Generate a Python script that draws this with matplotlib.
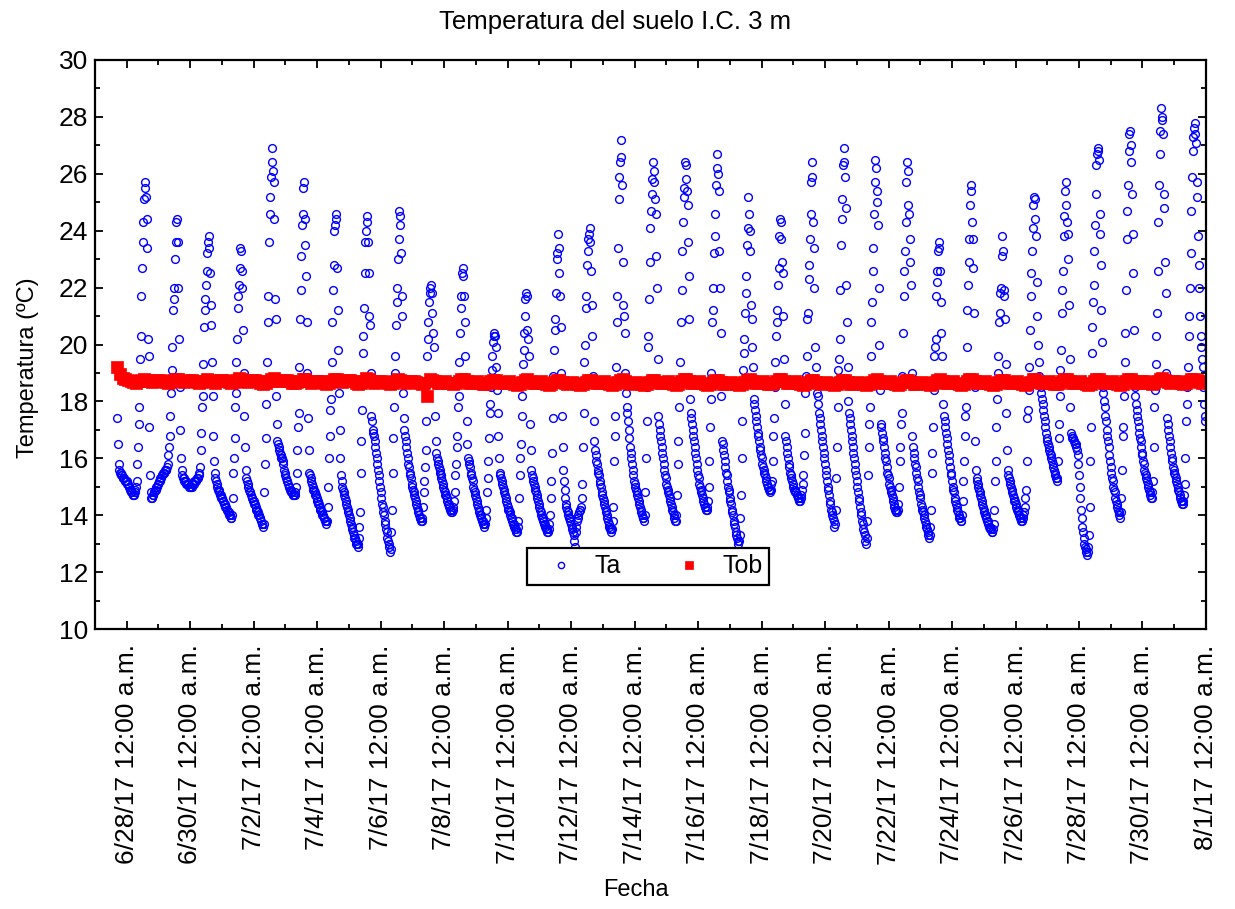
import numpy as np
import pandas as pd
import matplotlib
matplotlib.use("Agg")
import matplotlib.pyplot as plt
import matplotlib.dates as mdates
from matplotlib.ticker import FuncFormatter, MultipleLocator

plt.rcParams["font.family"] = ["Liberation Sans", "DejaVu Sans"]

# Ta, soil temperature every 30 min (first day starts 6/27 17:00)
ta_jun27 = [17.4, 16.5, 15.8, 15.6, 15.5, 15.5, 15.4, 15.4, 15.3, 15.3, 15.3, 15.2, 15.2, 15.2]
ta_jun28 = [15.2, 15.1, 15.1, 15.0, 15.0, 14.9, 14.9, 14.8, 14.8, 14.7, 14.7, 14.7, 14.8, 14.9, 15.0, 15.2,
            15.8, 16.4, 17.2, 17.8, 19.5, 20.3, 21.7, 22.7, 23.6, 24.3, 25.1, 25.5, 25.7,
            25.2, 24.4, 23.4, 20.2, 19.6, 17.1, 15.4, 14.8,
            14.6, 14.6, 14.7, 14.7, 14.8, 14.8, 14.9, 14.9, 15.0, 15.0, 15.1]
ta_jun29 = [15.1, 15.2, 15.2, 15.3, 15.3, 15.4, 15.4, 15.5, 15.5, 15.5, 15.6, 15.6, 15.6, 15.7, 15.8, 16.1,
            16.4, 16.8, 17.5, 18.3, 19.1, 19.9, 21.2, 21.6, 22.0, 23.0, 23.6, 24.3, 24.4,
            23.6, 22.0, 20.2, 18.5, 17.0, 16.0, 15.6, 15.4,
            15.3, 15.3, 15.2, 15.2, 15.2, 15.1, 15.1, 15.1, 15.1, 15.0, 15.0]
ta_jun30 = [15.0, 15.0, 15.0, 15.1, 15.1, 15.1, 15.2, 15.2, 15.2, 15.2, 15.3, 15.3, 15.3, 15.4, 15.5, 15.7,
            16.3, 16.9, 17.8, 18.2, 19.3, 20.6, 21.2, 21.6, 22.1, 22.6, 23.2, 23.6, 23.8,
            23.4, 22.5, 21.4, 20.7, 19.4, 18.2, 16.8, 15.9,
            15.5, 15.3, 15.2, 15.1, 15.0, 14.9, 14.9, 14.8, 14.7, 14.7, 14.6]
ta_jul01 = [14.6, 14.5, 14.5, 14.4, 14.4, 14.3, 14.3, 14.2, 14.2, 14.1, 14.1, 14.0, 14.0, 13.9, 13.9, 14.0,
            14.6, 15.5, 16.0, 16.7, 17.8, 18.3, 19.4, 20.2, 21.3, 21.7, 22.1, 22.7, 23.4,
            23.3, 22.6, 22.0, 20.5, 19.0, 17.5, 16.4, 15.6,
            15.3, 15.2, 15.1, 15.0, 14.9, 14.8, 14.8, 14.7, 14.6, 14.6, 14.5]
ta_jul02 = [14.5, 14.4, 14.4, 14.3, 14.2, 14.2, 14.1, 14.0, 14.0, 13.9, 13.9, 13.8, 13.7, 13.7, 13.6, 13.7,
            14.8, 15.8, 16.7, 17.9, 19.4, 20.8, 21.7, 23.6, 24.6, 25.2, 25.9, 26.4, 26.9,
            26.1, 25.7, 24.4, 21.6, 20.9, 18.2, 17.2, 16.6,
            16.5, 16.4, 16.3, 16.2, 16.1, 16.0, 16.0, 15.9, 15.8, 15.6, 15.5]
ta_jul03 = [15.4, 15.3, 15.2, 15.2, 15.1, 15.0, 15.0, 14.9, 14.9, 14.8, 14.8, 14.7, 14.7, 14.7, 14.7, 14.8,
            15.0, 15.5, 16.3, 17.1, 17.6, 19.2, 20.9, 21.9, 23.1, 24.2, 24.6, 25.5, 25.7,
            24.4, 23.5, 22.4, 20.8, 19.0, 17.4, 16.3, 15.5,
            15.4, 15.3, 15.2, 15.1, 15.0, 14.9, 14.9, 14.8, 14.7, 14.7, 14.6]
ta_jul04 = [14.5, 14.5, 14.4, 14.4, 14.3, 14.2, 14.2, 14.1, 14.0, 14.0, 13.9, 13.9, 13.8, 13.8, 13.7, 13.8,
            14.3, 15.0, 16.0, 16.8, 17.7, 18.1, 19.4, 20.8, 21.9, 22.8, 24.0, 24.2, 24.6,
            24.4, 22.7, 21.2, 19.8, 18.3, 17.0, 16.0, 15.4,
            15.2, 15.0, 14.9, 14.8, 14.7, 14.6, 14.5, 14.4, 14.3, 14.2, 14.1]
ta_jul05 = [14.0, 13.9, 13.8, 13.7, 13.6, 13.5, 13.4, 13.3, 13.2, 13.2, 13.1, 13.0, 13.0, 12.9, 13.0, 13.2,
            13.6, 14.1, 15.5, 16.6, 17.7, 19.7, 20.3, 21.3, 22.5, 23.6, 24.0, 24.3, 24.5,
            23.6, 22.5, 21.0, 20.7, 19.0, 17.5, 17.3, 17.0,
            16.9, 16.8, 16.6, 16.4, 16.2, 16.0, 15.8, 15.6, 15.4, 15.2, 15.0]
ta_jul06 = [14.8, 14.6, 14.4, 14.3, 14.1, 14.0, 13.8, 13.7, 13.5, 13.4, 13.2, 13.1, 13.0, 12.9, 12.7, 12.8,
            13.4, 14.2, 15.5, 16.7, 17.8, 19.0, 19.6, 20.7, 21.5, 22.0, 23.0, 23.7, 24.7,
            24.5, 24.2, 23.2, 21.7, 21.0, 18.3, 17.4, 17.0,
            16.8, 16.6, 16.4, 16.2, 16.0, 15.8, 15.7, 15.5, 15.4, 15.3, 15.1]
ta_jul07 = [15.0, 14.9, 14.8, 14.7, 14.6, 14.5, 14.4, 14.3, 14.2, 14.1, 14.0, 13.9, 13.9, 13.8, 13.8, 13.9,
            14.3, 14.8, 15.2, 15.7, 16.3, 17.3, 19.6, 20.2, 20.8, 21.5, 21.8, 22.0, 22.1,
            21.8, 21.1, 20.4, 19.9, 18.8, 17.5, 16.6, 16.2,
            16.0, 15.9, 15.8, 15.7, 15.6, 15.5, 15.4, 15.3, 15.2, 15.1, 15.0]
ta_jul08 = [14.9, 14.8, 14.7, 14.7, 14.6, 14.5, 14.4, 14.4, 14.3, 14.2, 14.2, 14.1, 14.1, 14.2, 14.3, 14.5,
            14.8, 15.4, 15.8, 16.4, 16.8, 17.8, 18.2, 19.4, 20.4, 21.3, 21.7, 22.5, 22.7,
            22.4, 21.7, 20.8, 19.6, 18.6, 17.3, 16.5, 16.0,
            15.9, 15.8, 15.7, 15.5, 15.4, 15.3, 15.2, 15.0, 14.9, 14.8, 14.7]
ta_jul09 = [14.6, 14.5, 14.4, 14.3, 14.2, 14.1, 14.0, 14.0, 13.9, 13.8, 13.8, 13.7, 13.7, 13.6, 13.7, 13.9,
            14.2, 14.8, 15.3, 15.9, 16.7, 17.6, 17.9, 18.5, 19.1, 19.6, 20.1, 20.3, 20.4,
            20.3, 19.9, 19.2, 18.4, 17.6, 16.8, 16.0, 15.5,
            15.4, 15.3, 15.2, 15.1, 15.0, 14.9, 14.8, 14.7, 14.6, 14.5, 14.4]
ta_jul10 = [14.3, 14.2, 14.2, 14.1, 14.0, 13.9, 13.9, 13.8, 13.7, 13.7, 13.6, 13.5, 13.5, 13.4, 13.4, 13.6,
            13.8, 14.6, 15.4, 16.0, 16.5, 17.5, 18.2, 19.3, 19.8, 20.4, 21.0, 21.6, 21.8,
            21.7, 20.5, 20.2, 19.6, 18.6, 17.2, 16.3, 15.6,
            15.4, 15.3, 15.2, 15.1, 15.0, 14.9, 14.8, 14.7, 14.6, 14.5, 14.4]
ta_jul11 = [14.3, 14.2, 14.1, 14.0, 13.9, 13.9, 13.8, 13.7, 13.7, 13.6, 13.5, 13.5, 13.4, 13.4, 13.5, 13.7,
            14.0, 14.6, 15.2, 16.2, 17.4, 18.9, 19.8, 20.5, 20.9, 21.8, 23.0, 23.2, 23.9,
            23.4, 22.5, 21.7, 20.6, 19.0, 17.5, 16.4, 15.6,
            15.2, 14.9, 14.6, 14.4, 14.3, 14.2, 14.1, 14.0, 13.9, 13.9, 13.8]
ta_jul12 = [13.7, 13.6, 13.5, 13.4, 13.3, 13.1, 12.9, 13.4, 13.6, 13.8, 13.9, 14.0, 14.1, 14.2, 14.2, 14.3,
            14.6, 15.1, 16.4, 17.6, 19.4, 20.0, 21.3, 21.7, 22.8, 23.3, 23.7, 23.9, 24.1,
            23.6, 22.6, 21.4, 20.3, 18.9, 17.3, 16.6, 16.3,
            16.1, 15.9, 15.8, 15.6, 15.5, 15.4, 15.2, 15.1, 15.0, 14.8, 14.7]
ta_jul13 = [14.6, 14.5, 14.4, 14.3, 14.2, 14.1, 14.0, 13.9, 13.8, 13.7, 13.6, 13.5, 13.5, 13.4, 13.5, 13.8,
            14.3, 15.9, 16.8, 17.5, 19.2, 20.8, 21.7, 23.4, 25.1, 25.9, 26.4, 26.6, 27.2,
            25.6, 22.9, 21.4, 21.0, 20.4, 19.0, 18.3, 17.8,
            17.6, 17.3, 17.0, 16.7, 16.4, 16.2, 16.0, 15.8, 15.6, 15.4, 15.2]
ta_jul14 = [15.1, 15.0, 14.9, 14.8, 14.7, 14.6, 14.5, 14.4, 14.3, 14.2, 14.1, 14.0, 13.9, 13.9, 13.8, 14.0,
            14.8, 16.0, 17.3, 18.5, 19.9, 20.3, 21.6, 22.9, 24.1, 24.7, 25.3, 25.8, 26.4,
            26.1, 25.7, 25.1, 24.6, 23.1, 22.0, 19.5, 17.5,
            17.2, 17.0, 16.8, 16.6, 16.4, 16.2, 16.0, 15.8, 15.6, 15.4, 15.3]
ta_jul15 = [15.1, 15.0, 14.9, 14.8, 14.7, 14.6, 14.5, 14.4, 14.3, 14.2, 14.1, 14.0, 13.9, 13.8, 13.8, 14.0,
            14.7, 15.8, 16.6, 17.8, 18.8, 19.4, 20.8, 21.9, 23.3, 24.3, 25.2, 25.5, 26.4,
            26.3, 25.8, 25.4, 24.9, 23.6, 22.4, 20.9, 18.1,
            17.6, 17.4, 17.2, 17.0, 16.8, 16.6, 16.4, 16.2, 16.0, 15.8, 15.6]
ta_jul16 = [15.4, 15.3, 15.1, 15.0, 14.9, 14.8, 14.7, 14.6, 14.5, 14.4, 14.3, 14.3, 14.2, 14.2, 14.3, 14.5,
            15.0, 15.9, 17.1, 18.1, 19.0, 20.8, 21.2, 22.0, 23.2, 23.8, 24.6, 25.6, 26.7,
            26.2, 26.0, 25.4, 23.3, 22.0, 20.4, 18.2, 16.6,
            16.5, 16.3, 16.1, 15.9, 15.7, 15.5, 15.4, 15.2, 15.0, 14.9, 14.8]
ta_jul17 = [14.6, 14.5, 14.4, 14.2, 14.1, 14.0, 13.8, 13.7, 13.6, 13.4, 13.3, 13.2, 13.1, 13.0, 13.1, 13.3,
            13.9, 14.7, 16.0, 17.3, 19.1, 19.7, 20.2, 21.1, 21.8, 22.4, 23.5, 24.1, 25.2,
            24.6, 24.0, 23.3, 21.4, 20.9, 19.9, 19.2, 18.1,
            17.9, 17.7, 17.5, 17.3, 17.1, 16.9, 16.8, 16.6, 16.4, 16.3, 16.1]
ta_jul18 = [16.0, 15.8, 15.7, 15.6, 15.5, 15.4, 15.3, 15.2, 15.1, 15.0, 15.0, 14.9, 14.9, 14.8, 14.9, 15.1,
            15.2, 15.9, 16.8, 17.4, 18.5, 19.4, 20.3, 20.8, 21.2, 22.1, 22.7, 23.8, 24.4,
            24.3, 23.7, 22.9, 22.5, 21.0, 19.5, 17.9, 16.8,
            16.6, 16.4, 16.2, 16.0, 15.8, 15.7, 15.5, 15.4, 15.3, 15.2, 15.1]
ta_jul19 = [15.0, 14.9, 14.9, 14.8, 14.8, 14.7, 14.7, 14.6, 14.6, 14.5, 14.5, 14.6, 14.7, 14.9, 15.1, 15.4,
            16.1, 16.9, 18.3, 18.9, 19.6, 20.9, 21.1, 22.3, 22.8, 23.7, 24.6, 25.7, 26.4,
            25.9, 24.3, 23.4, 22.0, 19.9, 19.2, 18.6, 18.3,
            18.2, 17.9, 17.6, 17.4, 17.2, 17.0, 16.8, 16.6, 16.4, 16.2, 16.0]
ta_jul20 = [15.8, 15.6, 15.4, 15.2, 15.0, 14.9, 14.7, 14.5, 14.4, 14.2, 14.1, 14.0, 13.9, 13.8, 13.6, 13.7,
            14.2, 15.3, 16.4, 17.8, 19.1, 19.5, 20.2, 21.9, 23.5, 24.4, 25.1, 26.3, 26.9,
            26.4, 25.9, 24.8, 22.1, 20.8, 19.2, 18.0, 17.6,
            17.4, 17.2, 17.0, 16.8, 16.6, 16.4, 16.2, 16.0, 15.8, 15.6, 15.4]
ta_jul21 = [15.2, 15.0, 14.8, 14.6, 14.5, 14.3, 14.1, 14.0, 13.8, 13.7, 13.5, 13.4, 13.3, 13.1, 13.0, 13.2,
            13.8, 15.4, 16.4, 17.2, 17.8, 19.6, 20.8, 21.5, 22.6, 23.4, 24.6, 25.7, 26.5,
            26.2, 25.4, 25.0, 24.2, 22.0, 20.0, 18.4, 17.2,
            17.1, 16.9, 16.7, 16.6, 16.4, 16.2, 16.0, 15.9, 15.7, 15.5, 15.4]
ta_jul22 = [15.3, 15.1, 15.0, 14.9, 14.8, 14.7, 14.6, 14.5, 14.4, 14.3, 14.2, 14.2, 14.1, 14.1, 14.2, 14.4,
            15.0, 15.9, 16.4, 17.2, 17.6, 18.9, 20.4, 21.7, 22.6, 23.3, 24.3, 25.7, 26.4,
            26.1, 24.9, 24.6, 23.7, 22.9, 22.1, 19.0, 16.8,
            16.4, 16.2, 16.0, 15.8, 15.7, 15.5, 15.3, 15.2, 15.0, 14.8, 14.7]
ta_jul23 = [14.6, 14.4, 14.3, 14.2, 14.1, 14.0, 13.9, 13.8, 13.7, 13.6, 13.5, 13.4, 13.3, 13.2, 13.3, 13.6,
            14.2, 15.5, 16.2, 17.1, 18.4, 19.6, 19.9, 20.2, 21.7, 22.2, 22.6, 23.3, 23.6,
            23.4, 22.6, 21.5, 20.4, 19.6, 18.6, 17.9, 17.5,
            17.3, 17.1, 16.9, 16.7, 16.5, 16.3, 16.1, 15.9, 15.7, 15.5, 15.4]
ta_jul24 = [15.2, 15.0, 14.9, 14.8, 14.6, 14.5, 14.4, 14.3, 14.2, 14.1, 14.0, 13.9, 13.9, 13.8, 13.8, 14.0,
            14.5, 15.2, 15.9, 16.8, 17.5, 17.8, 19.9, 21.2, 22.1, 22.9, 23.7, 24.9, 25.6,
            25.4, 24.3, 23.7, 22.7, 21.1, 18.5, 16.6, 15.6,
            15.3, 15.2, 15.1, 15.0, 14.9, 14.8, 14.7, 14.6, 14.5, 14.4, 14.3]
ta_jul25 = [14.2, 14.1, 14.0, 14.0, 13.9, 13.8, 13.8, 13.7, 13.6, 13.6, 13.5, 13.5, 13.4, 13.4, 13.5, 13.7,
            14.2, 15.2, 15.9, 17.1, 18.1, 19.0, 19.6, 20.8, 21.1, 21.8, 22.0, 23.1, 23.8,
            23.3, 21.9, 21.7, 20.9, 19.3, 17.6, 16.3, 15.6,
            15.4, 15.3, 15.2, 15.1, 15.0, 14.9, 14.8, 14.7, 14.6, 14.5, 14.5]
ta_jul26 = [14.4, 14.3, 14.2, 14.2, 14.1, 14.0, 14.0, 13.9, 13.9, 13.8, 13.8, 13.9, 14.0, 14.1, 14.3, 14.6,
            14.9, 15.9, 17.4, 17.7, 18.4, 19.2, 20.5, 21.7, 22.5, 23.3, 24.1, 24.9, 25.2,
            25.1, 24.4, 23.8, 22.2, 21.0, 20.0, 19.4, 18.9,
            18.7, 18.5, 18.3, 18.1, 17.9, 17.7, 17.5, 17.3, 17.1, 16.9, 16.7]
ta_jul27 = [16.6, 16.5, 16.4, 16.3, 16.2, 16.1, 16.0, 15.9, 15.8, 15.7, 15.6, 15.5, 15.4, 15.3, 15.2, 15.3,
            15.9, 16.7, 17.2, 18.2, 19.1, 19.8, 21.1, 21.9, 22.6, 23.8, 24.5, 25.4, 25.7,
            24.9, 24.3, 23.9, 23.0, 21.4, 19.5, 17.8, 16.9,
            16.8, 16.7, 16.7, 16.6, 16.6, 16.5, 16.5, 16.4, 16.3, 16.1, 15.8]
ta_jul28 = [15.4, 15.0, 14.6, 14.2, 13.9, 13.6, 13.4, 13.2, 13.0, 12.9, 12.8, 12.7, 12.6, 12.7, 12.9, 13.3,
            14.3, 15.9, 17.1, 19.7, 20.6, 21.5, 22.1, 23.3, 24.2, 25.3, 26.3, 26.7, 26.9,
            26.8, 26.5, 24.6, 23.9, 22.8, 21.2, 20.1, 18.5,
            18.3, 18.0, 17.8, 17.5, 17.3, 17.0, 16.8, 16.6, 16.4, 16.1, 15.9]
ta_jul29 = [15.7, 15.5, 15.3, 15.2, 15.0, 14.9, 14.8, 14.6, 14.5, 14.4, 14.3, 14.2, 14.1, 14.0, 13.9, 14.1,
            14.6, 15.6, 16.8, 17.1, 18.2, 19.4, 20.4, 21.9, 23.7, 24.7, 25.6, 26.8, 27.4,
            27.5, 27.0, 26.4, 25.3, 23.9, 22.5, 20.5, 18.5,
            18.2, 17.9, 17.7, 17.5, 17.3, 17.1, 16.9, 16.7, 16.6, 16.4, 16.2]
ta_jul30 = [16.1, 15.9, 15.8, 15.6, 15.5, 15.4, 15.3, 15.2, 15.1, 15.0, 14.9, 14.8, 14.7, 14.6, 14.6, 14.8,
            15.2, 16.4, 17.8, 18.4, 19.3, 20.3, 21.1, 22.6, 24.3, 25.6, 26.7, 27.5, 28.3,
            28.0, 27.9, 27.4, 25.3, 24.8, 22.9, 21.8, 19.0,
            17.4, 17.2, 17.0, 16.8, 16.6, 16.4, 16.2, 16.0, 15.9, 15.7, 15.6]
ta_jul31 = [15.5, 15.4, 15.3, 15.2, 15.1, 15.0, 14.9, 14.8, 14.7, 14.6, 14.5, 14.5, 14.4, 14.4, 14.5, 14.7,
            15.1, 16.0, 17.3, 17.9, 18.5, 19.2, 20.3, 21.0, 22.0, 23.2, 24.7, 25.9, 26.8,
            27.3, 27.6, 27.8, 27.4, 27.1, 25.7, 25.2, 23.8,
            22.8, 22.0, 21.0, 20.3, 19.9, 19.5, 19.2, 18.5, 17.9, 17.5, 17.3]

# Tob, every 2 h (first day starts 6/27 17:00, then 01:00, 03:00 ... 23:00)
tob_jun27 = [19.20, 18.98, 18.84, 18.80]
tob_jun28 = [18.76, 18.72, 18.68, 18.66, 18.70, 18.74, 18.80, 18.76, 18.70, 18.68, 18.72, 18.76]
tob_jun29 = [18.76, 18.72, 18.68, 18.64, 18.68, 18.74, 18.80, 18.80, 18.72, 18.68, 18.72, 18.76]
tob_jun30 = [18.76, 18.72, 18.68, 18.64, 18.68, 18.72, 18.80, 18.76, 18.70, 18.66, 18.70, 18.74]
tob_jul01 = [18.74, 18.70, 18.68, 18.64, 18.68, 18.74, 18.82, 18.78, 18.72, 18.68, 18.70, 18.74]
tob_jul02 = [18.74, 18.70, 18.66, 18.62, 18.66, 18.72, 18.80, 18.82, 18.74, 18.70, 18.70, 18.74]
tob_jul03 = [18.74, 18.70, 18.66, 18.64, 18.68, 18.72, 18.80, 18.80, 18.72, 18.66, 18.68, 18.72]
tob_jul04 = [18.72, 18.70, 18.66, 18.62, 18.66, 18.72, 18.80, 18.80, 18.72, 18.68, 18.70, 18.74]
tob_jul05 = [18.74, 18.70, 18.66, 18.62, 18.66, 18.72, 18.82, 18.78, 18.72, 18.66, 18.68, 18.72]
tob_jul06 = [18.72, 18.68, 18.64, 18.62, 18.66, 18.72, 18.80, 18.76, 18.70, 18.66, 18.68, 18.72]
tob_jul07 = [18.72, 18.68, 18.64, 18.62, 18.66, 18.20, 18.78, 18.74, 18.70, 18.66, 18.64, 18.68]
tob_jul08 = [18.70, 18.66, 18.64, 18.60, 18.64, 18.70, 18.78, 18.78, 18.70, 18.66, 18.64, 18.68]
tob_jul09 = [18.70, 18.66, 18.62, 18.60, 18.64, 18.70, 18.76, 18.76, 18.68, 18.64, 18.64, 18.68]
tob_jul10 = [18.70, 18.66, 18.62, 18.58, 18.62, 18.68, 18.76, 18.78, 18.70, 18.64, 18.64, 18.68]
tob_jul11 = [18.70, 18.66, 18.62, 18.58, 18.62, 18.68, 18.76, 18.76, 18.68, 18.64, 18.62, 18.66]
tob_jul12 = [18.68, 18.64, 18.60, 18.58, 18.62, 18.68, 18.76, 18.76, 18.68, 18.64, 18.64, 18.68]
tob_jul13 = [18.70, 18.66, 18.62, 18.58, 18.62, 18.68, 18.76, 18.78, 18.70, 18.64, 18.62, 18.66]
tob_jul14 = [18.68, 18.64, 18.60, 18.58, 18.62, 18.68, 18.76, 18.76, 18.68, 18.64, 18.64, 18.68]
tob_jul15 = [18.70, 18.66, 18.62, 18.58, 18.62, 18.70, 18.78, 18.78, 18.70, 18.64, 18.64, 18.68]
tob_jul16 = [18.70, 18.66, 18.62, 18.58, 18.62, 18.68, 18.76, 18.76, 18.68, 18.62, 18.62, 18.66]
tob_jul17 = [18.68, 18.64, 18.60, 18.58, 18.62, 18.68, 18.76, 18.78, 18.70, 18.64, 18.64, 18.68]
tob_jul18 = [18.70, 18.66, 18.62, 18.60, 18.64, 18.70, 18.78, 18.78, 18.70, 18.64, 18.64, 18.68]
tob_jul19 = [18.70, 18.66, 18.62, 18.58, 18.62, 18.68, 18.76, 18.76, 18.68, 18.64, 18.62, 18.66]
tob_jul20 = [18.68, 18.64, 18.60, 18.56, 18.60, 18.68, 18.76, 18.76, 18.68, 18.62, 18.62, 18.66]
tob_jul21 = [18.68, 18.64, 18.60, 18.58, 18.62, 18.68, 18.76, 18.78, 18.70, 18.64, 18.64, 18.68]
tob_jul22 = [18.70, 18.66, 18.62, 18.58, 18.62, 18.68, 18.76, 18.76, 18.68, 18.62, 18.62, 18.66]
tob_jul23 = [18.68, 18.64, 18.60, 18.58, 18.62, 18.68, 18.76, 18.78, 18.70, 18.64, 18.64, 18.68]
tob_jul24 = [18.70, 18.66, 18.62, 18.58, 18.62, 18.70, 18.78, 18.78, 18.70, 18.64, 18.64, 18.68]
tob_jul25 = [18.70, 18.66, 18.62, 18.58, 18.62, 18.68, 18.76, 18.76, 18.68, 18.64, 18.64, 18.68]
tob_jul26 = [18.70, 18.66, 18.62, 18.58, 18.62, 18.68, 18.78, 18.80, 18.72, 18.66, 18.64, 18.68]
tob_jul27 = [18.70, 18.66, 18.62, 18.60, 18.64, 18.70, 18.78, 18.78, 18.70, 18.64, 18.64, 18.68]
tob_jul28 = [18.70, 18.66, 18.62, 18.58, 18.62, 18.70, 18.78, 18.80, 18.72, 18.66, 18.64, 18.68]
tob_jul29 = [18.70, 18.66, 18.62, 18.58, 18.62, 18.70, 18.78, 18.80, 18.72, 18.66, 18.66, 18.70]
tob_jul30 = [18.72, 18.68, 18.64, 18.60, 18.64, 18.70, 18.80, 18.82, 18.74, 18.68, 18.66, 18.70]
tob_jul31 = [18.72, 18.68, 18.64, 18.60, 18.64, 18.70, 18.78, 18.80, 18.74, 18.68, 18.66, 18.70]

ta = np.concatenate([ta_jun27, ta_jun28, ta_jun29, ta_jun30, ta_jul01, ta_jul02, ta_jul03,
                     ta_jul04, ta_jul05, ta_jul06, ta_jul07, ta_jul08, ta_jul09, ta_jul10,
                     ta_jul11, ta_jul12, ta_jul13, ta_jul14, ta_jul15, ta_jul16, ta_jul17,
                     ta_jul18, ta_jul19, ta_jul20, ta_jul21, ta_jul22, ta_jul23, ta_jul24,
                     ta_jul25, ta_jul26, ta_jul27, ta_jul28, ta_jul29, ta_jul30, ta_jul31])
tob = np.concatenate([tob_jun27, tob_jun28, tob_jun29, tob_jun30, tob_jul01, tob_jul02, tob_jul03,
                      tob_jul04, tob_jul05, tob_jul06, tob_jul07, tob_jul08, tob_jul09, tob_jul10,
                      tob_jul11, tob_jul12, tob_jul13, tob_jul14, tob_jul15, tob_jul16, tob_jul17,
                      tob_jul18, tob_jul19, tob_jul20, tob_jul21, tob_jul22, tob_jul23, tob_jul24,
                      tob_jul25, tob_jul26, tob_jul27, tob_jul28, tob_jul29, tob_jul30, tob_jul31])

ta_times = pd.date_range("2017-06-27 17:00", periods=len(ta), freq="30min").to_pydatetime()
tob_times = pd.date_range("2017-06-27 17:00", periods=len(tob), freq="2h").to_pydatetime()

# tick positions: a label every 2 days, a small tick every day
major_days = pd.date_range("2017-06-28", "2017-08-01", freq="2D").to_pydatetime()
minor_days = pd.date_range("2017-06-27", "2017-08-01", freq="1D").to_pydatetime()

fig = plt.figure(figsize=(12.35, 9.09), dpi=100)
ax = fig.add_axes([0.0769, 0.308, 0.8996, 0.626])

ax.plot(ta_times, ta, linestyle="none", marker="o", markersize=5.6,
        markerfacecolor="none", markeredgecolor="#0000ff", markeredgewidth=1.0, label="Ta")
ax.plot(tob_times, tob, linestyle="none", marker="s", markersize=8,
        markerfacecolor="#ff0000", markeredgecolor="#ff0000", markeredgewidth=0.5, label="Tob")

ax.set_xlim(pd.Timestamp("2017-06-27").to_pydatetime(), pd.Timestamp("2017-08-01").to_pydatetime())
ax.set_ylim(10, 30)
ax.set_xticks(major_days)
ax.set_xticks(minor_days, minor=True)
ax.xaxis.set_major_formatter(FuncFormatter(
    lambda x, pos: "{d.month}/{d.day}/{d:%y} 12:00 a.m.".format(d=mdates.num2date(x))))
ax.set_yticks(np.arange(10, 31, 2))
ax.yaxis.set_minor_locator(MultipleLocator(1))

ax.tick_params(axis="both", which="both", direction="in", top=True, right=True, width=1.3)
ax.tick_params(axis="both", which="major", length=6, labelsize=19)
ax.tick_params(axis="both", which="minor", length=3.5)
ax.tick_params(axis="x", which="major", pad=11, labelrotation=90)
ax.tick_params(axis="y", which="major", pad=5)
for spine in ax.spines.values():
    spine.set_linewidth(1.6)

ax.set_title("Temperatura del suelo I.C. 3 m", fontsize=18.5, pad=22, x=0.468)
ax.set_xlabel("Fecha", fontsize=17)
ax.set_ylabel("Temperatura (ºC)", fontsize=17)
ax.xaxis.set_label_coords(0.487, -0.44)
ax.yaxis.set_label_coords(-0.05, 0.46)

# legend with both series on one row, square black frame
leg = ax.legend(loc="center", bbox_to_anchor=(0.498, 0.11), ncol=2, fontsize=18,
                frameon=True, fancybox=False, edgecolor="black", framealpha=1,
                handlelength=2.2, handletextpad=0.25, columnspacing=1.6, borderpad=0.25,
                markerscale=0.8)
leg.get_frame().set_linewidth(1.6)

fig.savefig("out.png", dpi=100)
